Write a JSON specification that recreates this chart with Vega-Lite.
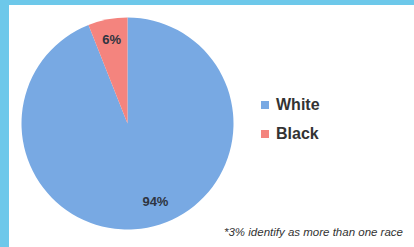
{
  "$schema": "https://vega.github.io/schema/vega-lite/v6.json",
  "width": 420,
  "height": 260,
  "autosize": {"type": "none"},
  "padding": {"left": 4.5, "top": 0.5, "right": 0, "bottom": 0},
  "background": "white",
  "view": {"fill": "white", "stroke": "#6dc8ea", "strokeWidth": 9},
  "data": {"values": [
    {"race": "White", "percent": 94, "label": "94%"},
    {"race": "Black", "percent": 6, "label": "6%"}
  ]},
  "layer": [
    {
      "mark": {"type": "arc", "outerRadius": 106, "x": {"expr": "width*0.29286"}, "y": {"expr": "height*0.4731"}},
      "encoding": {
        "theta": {"field": "percent", "type": "quantitative", "stack": true},
        "color": {
          "field": "race", "type": "nominal",
          "scale": {"domain": ["White", "Black"], "range": ["#78a9e3", "#f4847e"]},
          "legend": {
            "orient": "none", "legendX": 252.5, "legendY": 96.5, "title": null,
            "symbolType": "square", "symbolSize": 64, "symbolStrokeWidth": 0,
            "labelFontSize": 16, "labelFont": "Liberation Sans", "labelFontWeight": "bold",
            "labelColor": "#333333", "rowPadding": 13, "padding": 0, "labelOffset": 3
          }
        },
        "order": {"field": "race", "sort": "descending"}
      }
    },
    {
      "mark": {"type": "text", "radius": 85, "x": {"expr": "width*0.29286"}, "y": {"expr": "height*0.4731"},
        "fontSize": 13, "fontWeight": "bold", "font": "Liberation Sans", "color": "#2e3440",
        "dx": {"expr": "datum.race === 'White' ? 12 : 0"}, "dy": {"expr": "datum.race === 'White' ? -5 : 0"}},
      "encoding": {
        "theta": {"field": "percent", "type": "quantitative", "stack": true},
        "detail": {"field": "race", "type": "nominal"},
        "text": {"field": "label", "type": "nominal"},
        "order": {"field": "race", "sort": "descending"}
      }
    },
    {
      "data": {"values": [{"note": "*3% identify as more than one race"}]},
      "mark": {"type": "text", "x": "width", "y": "height", "align": "right", "baseline": "alphabetic",
        "dx": -21.5, "dy": -24.5, "fontStyle": "italic", "fontSize": 11.5, "font": "Liberation Sans", "color": "#333333"},
      "encoding": {"text": {"field": "note", "type": "nominal"}}
    }
  ]
}
